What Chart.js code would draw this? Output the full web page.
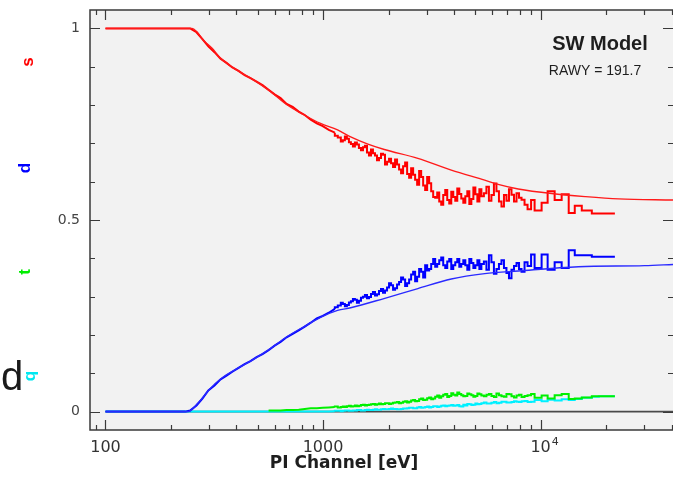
<!DOCTYPE html>
<html>
<head>
<meta charset="utf-8">
<script src="https://cdn.jsdelivr.net/npm/chart.js@4.4.0/dist/chart.umd.min.js"></script>
<style>
  html, body { margin: 0; padding: 0; background: #fff; }
  #wrap { width: 673px; height: 484px; }
</style>
</head>
<body>
<div id="wrap"><canvas id="grades" width="673" height="484"></canvas></div>
<script>
// energy bins (eV), shared by the four grade histograms
const energy = [100, 160, 233, 245, 262, 279, 297, 317, 338, 360,
  383, 409, 436, 464, 495, 527, 562, 599, 638, 680,
  725, 773, 824, 878, 936, 997, 1063, 1133, 1207, 1260,
  1315, 1372, 1431, 1494, 1558, 1626, 1696, 1770, 1847, 1927,
  2011, 2098, 2189, 2284, 2384, 2487, 2595, 2707, 2825, 2947,
  3075, 3208, 3348, 3493, 3645, 3803, 3968, 4140, 4319, 4508,
  4703, 4909, 5121, 5343, 5636, 5941, 6266, 6609, 6967, 7349,
  7751, 8172, 8710, 9384, 10107, 10772, 11602, 12497, 13465, 14354,
  15461, 17196, 18519, 21950];

const singles = [1, 1, 1, 1, 0.99, 0.972, 0.953, 0.938, 0.921, 0.91,
  0.898, 0.889, 0.878, 0.87, 0.861, 0.852, 0.84, 0.828, 0.818, 0.803,
  0.795, 0.783, 0.774, 0.762, 0.752, 0.745, 0.735, 0.728, 0.715, 0.708,
  0.712, 0.698, 0.702, 0.688, 0.69, 0.676, 0.684, 0.668, 0.662, 0.67,
  0.652, 0.648, 0.658, 0.632, 0.64, 0.62, 0.635, 0.605, 0.628, 0.59,
  0.612, 0.575, 0.558, 0.548, 0.565, 0.552, 0.574, 0.55, 0.568, 0.545,
  0.575, 0.555, 0.567, 0.58, 0.57, 0.55, 0.595, 0.548, 0.565, 0.58,
  0.548, 0.558, 0.54, 0.552, 0.525, 0.545, 0.575, 0.552, 0.567, 0.518,
  0.537, 0.525, 0.517, 0.517];

const doubles = [0, 0, 0, 0.003, 0.016, 0.034, 0.055, 0.068, 0.084, 0.094,
  0.104, 0.114, 0.124, 0.132, 0.142, 0.15, 0.16, 0.172, 0.182, 0.194,
  0.203, 0.212, 0.222, 0.232, 0.243, 0.25, 0.258, 0.268, 0.277, 0.281,
  0.278, 0.288, 0.292, 0.289, 0.3, 0.296, 0.307, 0.303, 0.315, 0.31,
  0.324, 0.33, 0.322, 0.338, 0.345, 0.335, 0.358, 0.34, 0.372, 0.35,
  0.368, 0.385, 0.378, 0.395, 0.382, 0.392, 0.372, 0.39, 0.378, 0.395,
  0.37, 0.388, 0.382, 0.372, 0.392, 0.408, 0.36, 0.385, 0.375, 0.348,
  0.38, 0.372, 0.39, 0.41, 0.375, 0.41, 0.37, 0.39, 0.375, 0.421,
  0.408, 0.408, 0.404, 0.404];

const triples = [null, null, null, null, null, null, null, null, null, null,
  null, null, null, null, null, null, 0.003, 0.003, 0.003, 0.004,
  0.004, 0.005, 0.007, 0.009, 0.009, 0.01, 0.011, 0.012, 0.011, 0.013,
  0.014, 0.013, 0.016, 0.015, 0.018, 0.017, 0.019, 0.018, 0.021, 0.02,
  0.022, 0.021, 0.024, 0.022, 0.026, 0.024, 0.029, 0.027, 0.032, 0.03,
  0.035, 0.032, 0.039, 0.036, 0.044, 0.038, 0.048, 0.042, 0.046, 0.04,
  0.047, 0.043, 0.041, 0.045, 0.04, 0.046, 0.038, 0.043, 0.039, 0.045,
  0.037, 0.044, 0.041, 0.046, 0.036, 0.042, 0.034, 0.043, 0.046, 0.033,
  0.034, 0.037, 0.04, 0.04];

const quads = [0, 0, 0, 0, 0, 0, 0, 0, 0, 0,
  0, 0, 0, 0, 0, 0, 0, 0, 0, 0,
  0, 0, 0, 0, 0, 0, 0, 0.001, 0.002, 0.002,
  0.003, 0.002, 0.003, 0.004, 0.003, 0.005, 0.004, 0.006, 0.005, 0.007,
  0.006, 0.008, 0.007, 0.006, 0.008, 0.009, 0.01, 0.009, 0.012, 0.011,
  0.013, 0.012, 0.014, 0.013, 0.016, 0.015, 0.017, 0.016, 0.014, 0.018,
  0.02, 0.017, 0.021, 0.02, 0.024, 0.021, 0.025, 0.023, 0.026, 0.024,
  0.027, 0.025, 0.028, 0.026, 0.03, 0.027, 0.031, 0.029, 0.032, 0.03,
  0.033, 0.036, 0.039, 0.04];

// extra (finer) bins in the noisy 1.1 - 9.4 keV range
const energyFine = [1169, 1233, 1287, 1343, 1401, 1462, 1526, 1592, 1661, 1733,
  1808, 1887, 1969, 2054, 2143, 2236, 2333, 2435, 2540, 2650,
  2765, 2885, 3010, 3141, 3277, 3420, 3568, 3723, 3885, 4053,
  4229, 4413, 4604, 4805, 5014, 5231, 5487, 5787, 6101, 6435,
  6786, 7155, 7547, 7959, 8437, 9041];
const singlesFine = [0.72, 0.705, 0.718, 0.703, 0.692, 0.697, 0.682, 0.694, 0.668, 0.674,
  0.656, 0.673, 0.645, 0.66, 0.638, 0.645, 0.622, 0.65, 0.61, 0.618,
  0.592, 0.612, 0.578, 0.596, 0.56, 0.572, 0.54, 0.578, 0.543, 0.56,
  0.582, 0.556, 0.562, 0.542, 0.585, 0.548, 0.562, 0.587, 0.565, 0.575,
  0.535, 0.55, 0.566, 0.57, 0.553, 0.528];
const doublesFine = [0.272, 0.284, 0.275, 0.285, 0.294, 0.284, 0.297, 0.304, 0.299, 0.312,
  0.306, 0.32, 0.316, 0.335, 0.318, 0.332, 0.35, 0.328, 0.345, 0.365,
  0.352, 0.365, 0.382, 0.372, 0.398, 0.385, 0.402, 0.375, 0.398, 0.382,
  0.398, 0.385, 0.382, 0.398, 0.375, 0.395, 0.385, 0.37, 0.39, 0.372,
  0.395, 0.362, 0.37, 0.388, 0.365, 0.38];
const triplesFine = [0.013, 0.012, 0.012, 0.015, 0.014, 0.014, 0.017, 0.016, 0.018, 0.02,
  0.019, 0.019, 0.022, 0.02, 0.023, 0.025, 0.023, 0.027, 0.026, 0.03,
  0.028, 0.034, 0.031, 0.037, 0.034, 0.042, 0.04, 0.046, 0.041, 0.044,
  0.05, 0.043, 0.041, 0.045, 0.039, 0.047, 0.042, 0.044, 0.041, 0.047,
  0.04, 0.046, 0.04, 0.042, 0.038, 0.043];
const quadsFine = [0.002, 0.001, 0.003, 0.002, 0.003, 0.004, 0.003, 0.004, 0.004, 0.005,
  0.005, 0.006, 0.006, 0.007, 0.007, 0.006, 0.007, 0.008, 0.01, 0.009,
  0.011, 0.01, 0.012, 0.011, 0.014, 0.012, 0.015, 0.014, 0.016, 0.015,
  0.017, 0.013, 0.016, 0.019, 0.018, 0.019, 0.022, 0.021, 0.023, 0.022,
  0.026, 0.024, 0.025, 0.026, 0.027, 0.025];

// SW model curves
const modelSinglesE = [100, 250, 263, 282, 309, 338, 402, 481, 574, 685,
  819, 974, 1166, 1340, 1608, 1913, 2728, 3886, 5534, 6381,
  7893, 11240, 16010, 22830, 40600];
const modelSingles = [1, 1, 0.991, 0.969, 0.948, 0.922, 0.891, 0.865, 0.835, 0.8,
  0.774, 0.752, 0.735, 0.717, 0.698, 0.684, 0.661, 0.63, 0.604, 0.593,
  0.581, 0.569, 0.561, 0.555, 0.552];

const modelDoublesE = [100, 240, 265, 282, 303, 338, 402, 481, 574, 685,
  819, 974, 1166, 1340, 1905, 2728, 3886, 5534, 7893, 14920,
  30040, 40600];
const modelDoubles = [0, 0, 0.021, 0.039, 0.06, 0.085, 0.112, 0.137, 0.165, 0.196,
  0.222, 0.246, 0.264, 0.271, 0.295, 0.321, 0.346, 0.36, 0.367, 0.378,
  0.381, 0.384];

const xTicks = [100, 1000, 10000];
const xTickLabels = ['100', '1000', '10^4'];
const yTicks = [0, 0.5, 1];
const yTickLabels = ['0', '0.5', '1'];

// below ~1.1 keV the histograms are smooth (plain line), above they are noisy steps
const SPLIT_E = 1133;
const toPts = (xs, ys) => xs.map((x, i) => ({ x: x, y: ys[i] })).filter(p => p.y !== null);
const merged = (ys, ysFine) => toPts(energy, ys).concat(toPts(energyFine, ysFine)).sort((a, b) => a.x - b.x);

const framePlugin = {
  id: 'framePlugin',
  beforeDatasetsDraw(chart) {
    const { ctx, chartArea: a } = chart;
    ctx.save();
    ctx.fillStyle = '#f2f2f2';
    ctx.fillRect(a.left, a.top, a.right - a.left, a.bottom - a.top);
    ctx.restore();
  },
  afterDraw(chart) {
    const { ctx, chartArea: a } = chart;
    const x = chart.scales.x, y = chart.scales.y;
    ctx.save();
    // box
    ctx.strokeStyle = '#3a3a3a';
    ctx.lineWidth = 1.5;
    ctx.beginPath();
    ctx.moveTo(a.right + 2, a.top);
    ctx.lineTo(a.left, a.top);
    ctx.lineTo(a.left, a.bottom);
    ctx.lineTo(a.right + 2, a.bottom);
    ctx.stroke();

    // ticks, pointing inwards
    ctx.lineWidth = 1.2;
    ctx.beginPath();
    for (let d = 10; d <= 10000; d *= 10) {
      for (let k = 1; k <= 9; k++) {
        const v = d * k;
        if (v < x.min || v > x.max) continue;
        const px = Math.round(x.getPixelForValue(v)) + 0.5;
        const len = (k === 1 && v >= 100) ? 10 : 5;
        ctx.moveTo(px, a.bottom); ctx.lineTo(px, a.bottom - len);
        ctx.moveTo(px, a.top); ctx.lineTo(px, a.top + len);
      }
    }
    for (let i = 0; i <= 10; i++) {
      const py = Math.round(y.getPixelForValue(i / 10)) + 0.5;
      const len = i % 5 === 0 ? 10 : 5;
      ctx.moveTo(a.left, py); ctx.lineTo(a.left + len, py);
      ctx.moveTo(a.right, py); ctx.lineTo(a.right - len, py);
    }
    ctx.stroke();

    // y tick labels
    ctx.fillStyle = '#444';
    ctx.font = '14px "DejaVu Sans"';
    ctx.textAlign = 'right';
    ctx.textBaseline = 'middle';
    yTicks.forEach((v, i) => ctx.fillText(yTickLabels[i], a.left - 10, y.getPixelForValue(v)));

    // x tick labels
    ctx.fillStyle = '#333';
    ctx.textBaseline = 'alphabetic';
    xTicks.forEach((v, i) => {
      const px = x.getPixelForValue(v);
      const parts = xTickLabels[i].split('^');
      ctx.font = '16px "DejaVu Sans"';
      ctx.textAlign = 'center';
      ctx.fillText(parts[0], px, 452);
      if (parts[1]) {
        const w = ctx.measureText(parts[0]).width;
        ctx.font = '11px "DejaVu Sans"';
        ctx.textAlign = 'left';
        ctx.fillText(parts[1], px + w / 2 + 1, 445);
      }
    });

    // axis title
    ctx.fillStyle = '#1e1e1e';
    ctx.font = 'bold 17px "DejaVu Sans"';
    ctx.textAlign = 'center';
    ctx.fillText('PI Channel [eV]', 344, 468);

    // model annotation
    ctx.font = 'bold 20px "Liberation Sans"';
    ctx.fillText('SW Model', 600, 50);
    ctx.font = '14px "Liberation Sans"';
    ctx.fillText('RAWY = 191.7', 595, 75);

    // grade letters on the left, rotated
    const letters = [['s', '#ff0000', 28, 62], ['d', '#0000ff', 25, 168], ['t', '#00ee00', 25, 272], ['q', '#00e8f0', 30, 376]];
    ctx.font = 'bold 17px "Liberation Sans"';
    ctx.textBaseline = 'middle';
    letters.forEach(l => {
      ctx.save();
      ctx.fillStyle = l[1];
      ctx.translate(l[2], l[3]);
      ctx.rotate(-Math.PI / 2);
      ctx.fillText(l[0], 0, 0);
      ctx.restore();
    });
    ctx.fillStyle = '#1a1a1a';
    ctx.font = '40px "Liberation Sans"';
    ctx.textAlign = 'left';
    ctx.textBaseline = 'alphabetic';
    ctx.fillText('d', 1, 390);
    ctx.restore();
  }
};

const series = [
  ['singles', singles, singlesFine, '#ff0000', 3],
  ['doubles', doubles, doublesFine, '#0000ff', 5],
  ['triples', triples, triplesFine, '#00f000', 7],
  ['quads', quads, quadsFine, '#00f0ff', 9]
];
const datasets = [
  { label: 'model s', data: toPts(modelSinglesE, modelSingles), borderColor: '#ff1a1a', borderWidth: 1.4, cubicInterpolationMode: 'monotone', order: 1 },
  { label: 'model d', data: toPts(modelDoublesE, modelDoubles), borderColor: '#2a2aff', borderWidth: 1.4, cubicInterpolationMode: 'monotone', order: 2 },
  { label: 'zero', data: [{ x: 100, y: 0 }, { x: 40600, y: 0 }], borderColor: '#4a4a4a', borderWidth: 1.6, order: 20 }
];
series.forEach(s => {
  const all = merged(s[1], s[2]);
  datasets.push({ label: s[0], data: all.filter(p => p.x <= SPLIT_E), borderColor: s[3], borderWidth: 2, order: s[4] });
  datasets.push({ label: s[0] + ' hi', data: all.filter(p => p.x >= SPLIT_E), borderColor: s[3], borderWidth: 2, stepped: 'after', order: s[4] + 1 });
});

const ctx = document.getElementById('grades').getContext('2d');
new Chart(ctx, {
  type: 'line',
  data: { datasets: datasets },
  options: {
    responsive: false,
    animation: false,
    layout: { padding: { left: 90, right: 0, top: 10, bottom: 54 } },
    elements: { point: { radius: 0 } },
    plugins: { legend: { display: false }, tooltip: { enabled: false } },
    scales: {
      x: { type: 'logarithmic', min: 84.9, max: 40600, display: false },
      y: { type: 'linear', min: -0.048, max: 1.048, display: false }
    }
  },
  plugins: [framePlugin]
});
</script>
</body>
</html>
